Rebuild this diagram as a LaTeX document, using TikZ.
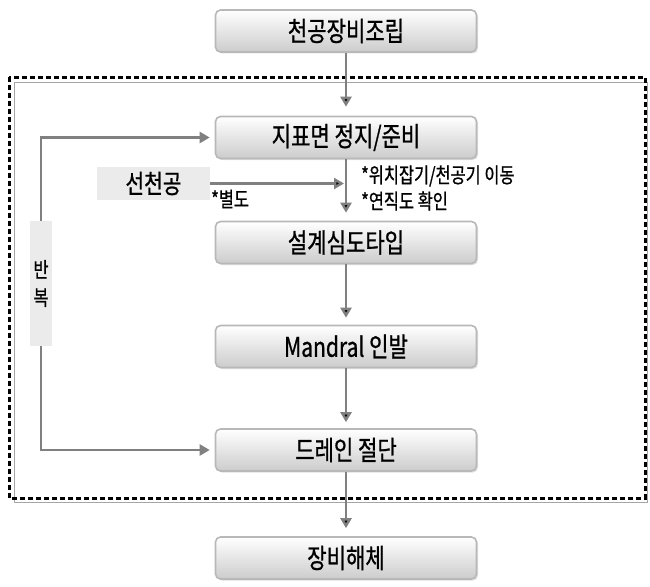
\documentclass[tikz,border=0pt]{standalone}
\usepackage{fontspec}
\setmainfont{Noto Sans CJK KR}[FakeStretch=0.78,FakeBold=0.8]
\usetikzlibrary{arrows.meta,shadows}

\begin{document}
\begin{tikzpicture}[x=1pt,y=-1pt,
	stage/.style={shape=rectangle,rounded corners=5pt,draw=black!28,line width=1.6pt,
		top color=white,bottom color=black!20,minimum width=261pt,minimum height=42pt,
		font=\fontsize{27}{30}\selectfont,
		drop shadow={opacity=0.25,shadow xshift=1.5pt,shadow yshift=-1.5pt}},
	tag/.style={fill=black!8,inner sep=0pt},
	note/.style={font=\fontsize{21}{24}\selectfont,anchor=west,inner sep=2pt},
	arr/.style={draw=black!50,line width=2.4pt,-{Triangle[length=10pt,width=11pt]}}]
	\useasboundingbox (0,0) rectangle (650,586);

	% frame of the repeated part
	\draw[black!35,line width=1pt] (14,82) rectangle (647,502);
	\draw[black,line width=3pt,dash pattern=on 5pt off 3pt] (9,77) rectangle (645,498);

	\node[stage] (b1) at (346,31)    {천공장비조립};
	\node[stage] (b2) at (346,137.5) {지표면 정지/준비};
	\node[stage] (b3) at (346,242.5) {설계심도타입};
	\node[stage] (b4) at (346,346.5) {Mandral 인발};
	\node[stage] (b5) at (346,450)   {드레인 절단};
	\node[stage] (b6) at (346,558)   {장비해체};

	\node[tag,minimum width=113pt,minimum height=33pt,font=\fontsize{26}{28}\selectfont] (pre) at (153.5,183.5) {선천공};
	\node[tag,minimum width=22pt,minimum height=125pt,align=center,font=\fontsize{21}{28}\selectfont] (rep) at (41,283.5) {반\\복};

	\node[note] (n1) at (359,176) {*위치잡기/천공기 이동};
	\node[note] (n2) at (359,201) {*연직도 확인};
	\node[note] (n3) at (209,199) {*별도};

	\coordinate (j) at (pre.east -| b2.south);

	\path[arr,shorten >=9pt] (b1) edge (b2);
	\path[arr,shorten >=8pt] (b2) edge (b3);
	\path[arr,shorten >=7pt] (b3) edge (b4);
	\path[arr,shorten >=6pt] (b4) edge (b5);
	\path[arr,shorten >=8pt] (b5) edge (b6);
	\path[arr,shorten >=2pt] (pre) edge (j);
	\draw[arr,shorten >=5pt] (rep.north) |- (b2.west);
	\draw[arr,shorten >=5pt] (rep.south) |- (b5.west);

\end{tikzpicture}
\end{document}
